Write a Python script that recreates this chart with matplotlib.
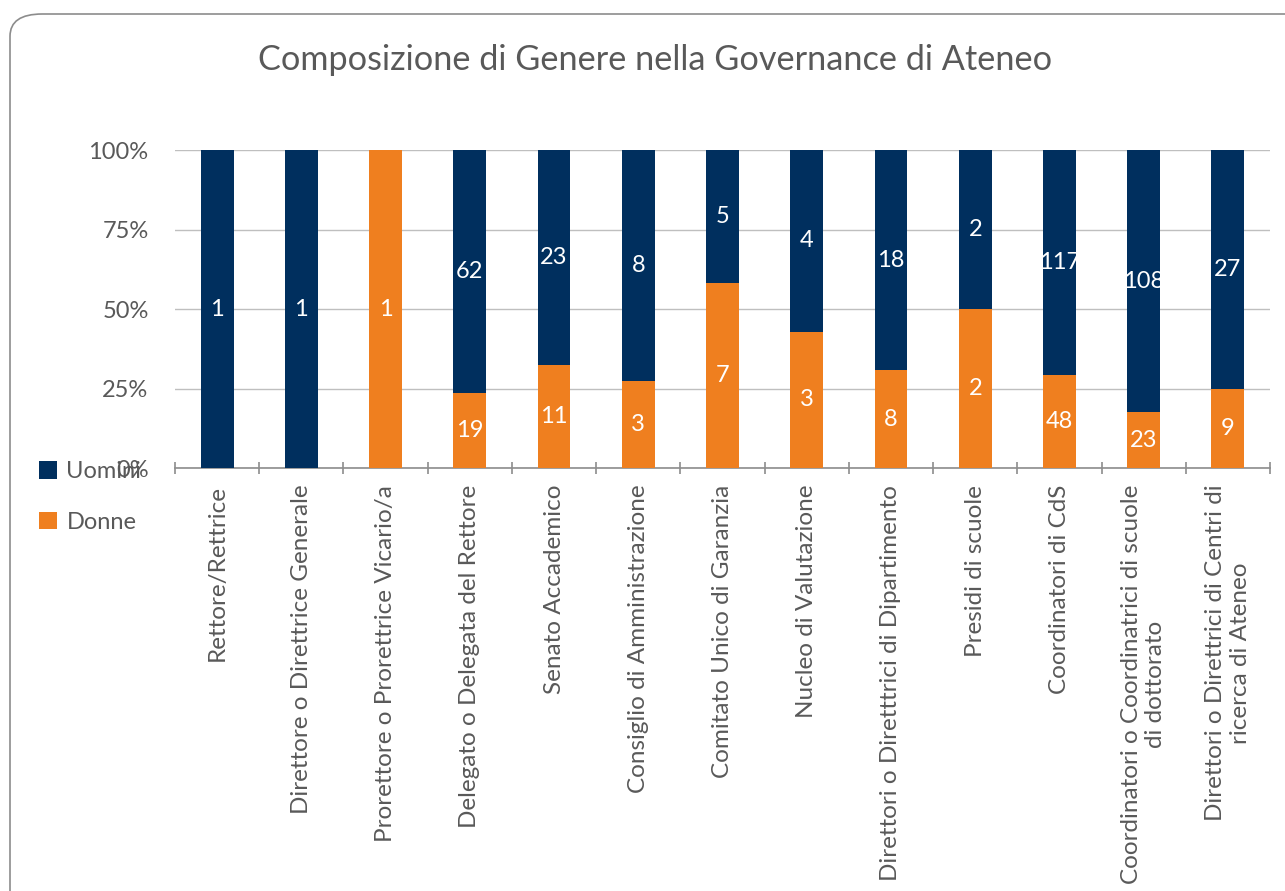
import matplotlib.pyplot as plt
import numpy as np
from matplotlib.patches import FancyBboxPatch

categorie = ['Rettore/Rettrice', 'Direttore o Direttrice Generale',
             'Prorettore o Prorettrice Vicario/a', 'Delegato o Delegata del Rettore',
             'Senato Accademico', 'Consiglio di Amministrazione',
             'Comitato Unico di Garanzia', 'Nucleo di Valutazione',
             'Direttori o Diretttrici di Dipartimento', 'Presidi di scuole',
             'Coordinatori di CdS',
             'Coordinatori o Coordinatrici di scuole\ndi dottorato',
             'Direttori o Direttrici di Centri di\nricerca di Ateneo']
uomini = [1, 1, 0, 62, 23, 8, 5, 4, 18, 2, 117, 108, 27]
donne = [0, 0, 1, 19, 11, 3, 7, 3, 8, 2, 48, 23, 9]

navy = '#002F5E'
orange = '#EF7F1F'
grey = '#595959'

plt.rcParams['font.family'] = ['Lato', 'DejaVu Sans']

fig = plt.figure(figsize=(12.85, 8.91), dpi=100)
ax = fig.add_axes([175 / 1285, 1 - 468 / 891, 1095 / 1285, 318 / 891])

# cornice arrotondata
frame = FancyBboxPatch((10 / 1285, -0.1), 1.2, 1.1 - 14 / 891,
                       boxstyle='round,pad=0,rounding_size=0.025',
                       transform=fig.transFigure, fill=False,
                       edgecolor='#8c8c8c', linewidth=1.2, clip_on=False)
fig.patches.append(frame)

u = np.array(uomini, dtype=float)
d = np.array(donne, dtype=float)
tot = u + d
pu = u / tot
pd = d / tot
x = np.arange(len(categorie))
w = 0.39

ax.bar(x, pd, w, color=orange, label='Donne', zorder=3)
ax.bar(x, pu, w, bottom=pd, color=navy, label='Uomini', zorder=3)

for i in range(len(x)):
    if d[i] > 0:
        ax.text(x[i], pd[i] / 2, str(donne[i]), ha='center', va='center',
                color='white', fontsize=17, zorder=4)
    if u[i] > 0:
        ax.text(x[i], pd[i] + pu[i] / 2, str(uomini[i]), ha='center', va='center',
                color='white', fontsize=17, zorder=4)

ax.set_xlim(-0.5, len(x) - 0.5)
ax.set_ylim(0, 1)
ax.set_yticks([0, 0.25, 0.5, 0.75, 1])
ax.set_yticklabels(['0%', '25%', '50%', '75%', '100%'])
ax.yaxis.grid(True, color='#bfbfbf', linewidth=1, zorder=0)
ax.tick_params(axis='y', length=0, labelsize=17, labelcolor=grey, pad=19)
for s in ['top', 'right', 'left']:
    ax.spines[s].set_visible(False)
ax.spines['bottom'].set_color('#8c8c8c')
ax.spines['bottom'].set_linewidth(1.2)

ax.set_xticks(x)
ax.set_xticklabels(categorie, rotation=90, ha='center', va='top',
                   multialignment='center', fontsize=17.5, color=grey)
ax.tick_params(axis='x', which='major', length=0, pad=12)
ax.set_xticks(np.arange(-0.5, len(x), 1), minor=True)
ax.tick_params(axis='x', which='minor', length=9, direction='inout',
               color='#8c8c8c', width=1.2)

fig.text(655 / 1285, 1 - 60 / 891, 'Composizione di Genere nella Governance di Ateneo',
         ha='center', va='center', fontsize=24.7, color=grey)

handles, labels = ax.get_legend_handles_labels()
fig.legend(handles[::-1], labels[::-1], loc='upper left',
           bbox_to_anchor=(18 / 1285, 1 - 440 / 891), frameon=False,
           fontsize=17, labelcolor=grey, handlelength=0.75, handleheight=0.75,
           labelspacing=1.25, handletextpad=0.4)

fig.savefig('out.png', dpi=100)
